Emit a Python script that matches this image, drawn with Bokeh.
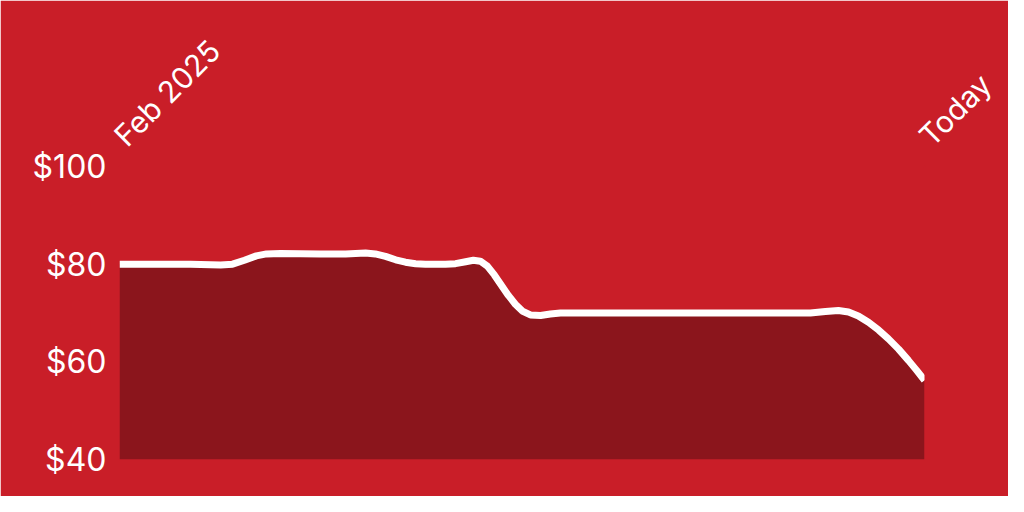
import math
from bokeh.plotting import figure
from bokeh.models import Range1d, FixedTicker, ColumnDataSource
from bokeh.embed import file_html
from bokeh.resources import INLINE

# Days since start of Feb 2025 and price values
days = [0, 8.9, 20.3, 28.9, 32.3, 35.7, 39.1, 42, 46, 57.4, 64.6, 70.3, 73.1, 76,
        78.9, 81.7, 84.6, 87.4, 93.1, 96, 98.9, 101.1, 103.1, 105.1, 107.1, 109.1,
        111.1, 113.1, 115.1, 117.4, 120.3, 123.1, 126, 137.4, 166, 197.4, 201.7,
        205.4, 208.3, 211.1, 214, 216.9, 219.7, 222.6, 225.4, 227.7, 230]
price = [80.0, 80.0, 80.0, 79.85, 80.0, 80.8, 81.7, 82.1, 82.2, 82.1, 82.1, 82.3,
         82.1, 81.6, 80.9, 80.4, 80.1, 80.0, 80.0, 80.1, 80.5, 80.8, 80.6, 79.6,
         77.8, 75.7, 73.6, 71.8, 70.4, 69.6, 69.5, 69.8, 70.0, 70.0, 70.0, 70.0,
         70.3, 70.5, 70.2, 69.4, 68.1, 66.5, 64.7, 62.6, 60.3, 58.3, 56.2]
y_ticks = [40, 60, 80, 100]
y_labels = ["$40", "$60", "$80", "$100"]
x_ticks = [0, 230]
x_labels = ["Feb 2025", "Today"]

BG = "#C91E28"
DARK = "#8B151C"
FONT = "Inter"

src = ColumnDataSource(dict(x=days, y=price, base=[40] * len(days)))

p = figure(width=1008, height=496, output_backend="svg", toolbar_location=None,
           x_range=Range1d(0, 230), y_range=Range1d(40, 100),
           x_axis_location="above",
           min_border_left=119, min_border_right=84, min_border_top=166, min_border_bottom=37)
p.background_fill_color = BG
p.border_fill_color = BG
p.outline_line_color = BG
p.outline_line_width = 2
p.grid.visible = False

p.varea(x="x", y1="base", y2="y", source=src, fill_color=DARK)
p.line(x="x", y="y", source=src, line_color="white", line_width=7, line_join="round")

ya = p.yaxis[0]
ya.ticker = FixedTicker(ticks=y_ticks)
ya.major_label_overrides = {t: l for t, l in zip(y_ticks, y_labels)}
ya.axis_line_color = None
ya.major_tick_line_color = None
ya.minor_tick_line_color = None
ya.major_tick_out = 0
ya.major_tick_in = 0
ya.major_label_standoff = 13
ya.major_label_text_font = FONT
ya.major_label_text_font_size = "32px"
ya.major_label_text_color = "white"

xa = p.xaxis[0]
xa.ticker = FixedTicker(ticks=x_ticks)
xa.major_label_overrides = {t: l for t, l in zip(x_ticks, x_labels)}
xa.axis_line_color = None
xa.major_tick_line_color = None
xa.minor_tick_line_color = None
xa.major_tick_out = 0
xa.major_tick_in = 0
xa.major_label_standoff = 26
xa.major_label_orientation = math.pi / 4
xa.major_label_text_font = FONT
xa.major_label_text_font_size = "30px"
xa.major_label_text_color = "white"

open("out.html", "w").write(file_html(p, INLINE))
